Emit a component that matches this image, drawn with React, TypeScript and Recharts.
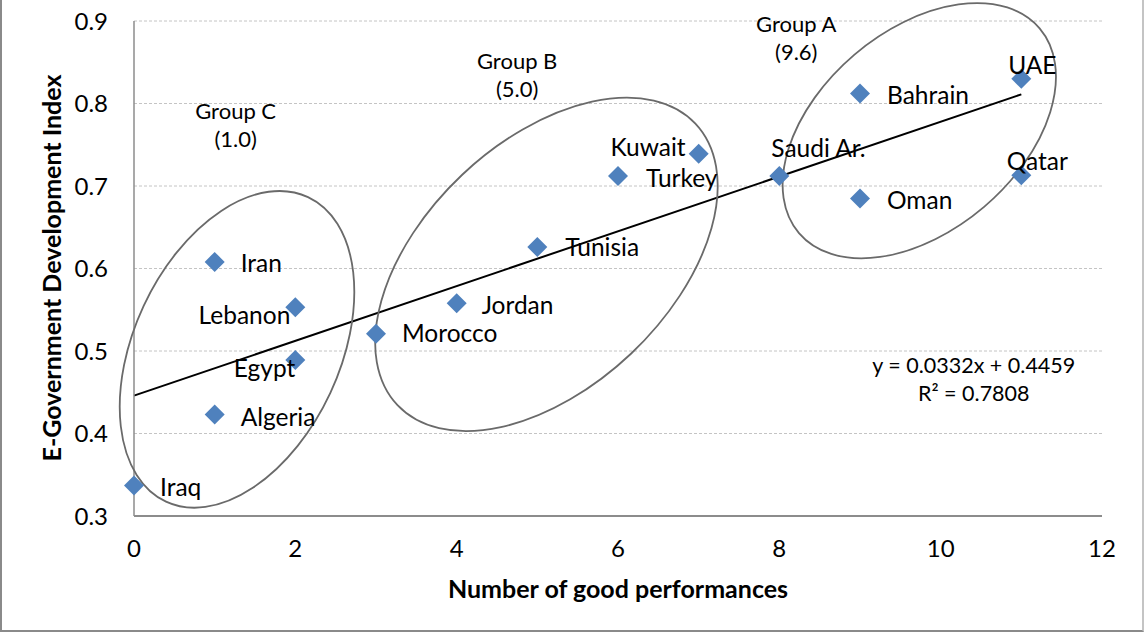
import React from 'react';
import { ScatterChart, Scatter, XAxis, YAxis, CartesianGrid, ReferenceLine, ReferenceDot, Label } from 'recharts';

const countries = ['Iraq', 'Iran', 'Algeria', 'Lebanon', 'Egypt', 'Morocco', 'Jordan', 'Tunisia', 'Turkey', 'Kuwait', 'Saudi Ar.', 'Bahrain', 'Oman', 'UAE', 'Qatar'];
const goodPerformances = [0, 1, 1, 2, 2, 3, 4, 5, 6, 7, 8, 9, 9, 11, 11];
const egdi = [0.337, 0.608, 0.423, 0.553, 0.489, 0.521, 0.558, 0.626, 0.712, 0.739, 0.712, 0.812, 0.685, 0.830, 0.713];

const trendX = [0, 11];
const trendY = [0.4459, 0.8111];

const xTicks = [0, 2, 4, 6, 8, 10, 12];
const yTicks = [0.3, 0.4, 0.5, 0.6, 0.7, 0.8, 0.9];

const groupNames = ['Group C', 'Group B', 'Group A'];
const groupScores = ['(1.0)', '(5.0)', '(9.6)'];

// where each group ring / caption sits (data coords), ring size in px
const RINGS = [
  { x: 1.277, y: 0.502, rx: 103, ry: 168, angle: 25 },
  { x: 5.113, y: 0.605, rx: 123, ry: 205, angle: 46.6 },
  { x: 9.735, y: 0.767, rx: 100, ry: 158, angle: 49.6 },
];
const CAPTIONS = [
  { x: 1.26, y: 0.79 },
  { x: 4.75, y: 0.851 },
  { x: 8.21, y: 0.896 },
];

// label placement next to each diamond (px)
const LABEL_POS: Record<string, { dx: number; dy: number; anchor: 'start' | 'end' | 'middle' }> = {
  'Iraq': { dx: 26, dy: 2, anchor: 'start' },
  'Iran': { dx: 26, dy: 2, anchor: 'start' },
  'Algeria': { dx: 26, dy: 3, anchor: 'start' },
  'Lebanon': { dx: -5, dy: 8, anchor: 'end' },
  'Egypt': { dx: 0, dy: 8, anchor: 'end' },
  'Morocco': { dx: 26, dy: 0, anchor: 'start' },
  'Jordan': { dx: 25, dy: 2, anchor: 'start' },
  'Tunisia': { dx: 28, dy: 0, anchor: 'start' },
  'Turkey': { dx: 28, dy: 2, anchor: 'start' },
  'Kuwait': { dx: -13, dy: -6, anchor: 'end' },
  'Saudi Ar.': { dx: -8, dy: -28, anchor: 'start' },
  'Bahrain': { dx: 27, dy: 2, anchor: 'start' },
  'Oman': { dx: 27, dy: 2, anchor: 'start' },
  'UAE': { dx: 11, dy: -13, anchor: 'middle' },
  'Qatar': { dx: 16, dy: -14, anchor: 'middle' },
};

const FONT = 'Lato, "Open Sans", sans-serif';
const BLUE = '#4F81BD';

const points = countries.map((name, i) => ({ name, x: goodPerformances[i], y: egdi[i] }));

const Diamond = (props: any) => {
  const { cx, cy, payload } = props;
  if (cx == null || cy == null) return null;
  const s = 10;
  const pos = LABEL_POS[payload.name] ?? { dx: 26, dy: 0, anchor: 'start' };
  return (
    <g>
      <polygon points={`${cx},${cy - s} ${cx + s},${cy} ${cx},${cy + s} ${cx - s},${cy}`} fill={BLUE} />
      <text x={cx + pos.dx} y={cy + pos.dy} dy="0.35em" textAnchor={pos.anchor}
        fontFamily={FONT} fontSize={24.5} fill="#000">{payload.name}</text>
    </g>
  );
};

const Ring = (r: { rx: number; ry: number; angle: number }) => (props: any) => {
  const { cx, cy } = props;
  if (cx == null || cy == null) return <g />;
  return (
    <ellipse cx={cx} cy={cy} rx={r.rx} ry={r.ry} transform={`rotate(${r.angle} ${cx} ${cy})`}
      fill="none" stroke="#6a6a6a" strokeWidth={1.8} />
  );
};

const TwoLines = (a: string, b: string, size: number) => (props: any) => {
  const { cx, cy } = props;
  if (cx == null || cy == null) return <g />;
  return (
    <g fontFamily={FONT} fontSize={size} fill="#000" textAnchor="middle">
      <text x={cx} y={cy} dy="0.35em">{a}</text>
      <text x={cx} y={cy + 28} dy="0.35em">{b}</text>
    </g>
  );
};

export default function App() {
  return (
    <div style={{ position: 'absolute', left: 0, top: 0, width: 1144, height: 632, background: '#fff' }}>
      <ScatterChart width={1144} height={632} margin={{ top: 21, right: 42, bottom: 0, left: 0 }}>
        <CartesianGrid vertical={false} stroke="#c4c4c4" strokeDasharray="3 2" />
        <XAxis type="number" dataKey="x" domain={[0, 12]} ticks={xTicks} height={116}
          tickSize={0} tickMargin={24} axisLine={{ stroke: '#8c8c8c', strokeWidth: 2 }}
          tick={{ fill: '#000', fontSize: 24, fontFamily: FONT }}>
          <Label value="Number of good performances" position="insideBottom" offset={34}
            style={{ fontFamily: FONT, fontSize: 25, fontWeight: 700, fill: '#000' }} />
        </XAxis>
        <YAxis type="number" dataKey="y" domain={[0.3, 0.9]} ticks={yTicks} width={134}
          tickSize={0} tickMargin={26} axisLine={{ stroke: '#8c8c8c', strokeWidth: 1.5 }}
          tickFormatter={(v: number) => v.toFixed(1)}
          tick={{ fill: '#000', fontSize: 24, fontFamily: FONT }}>
          <Label content={() => (
            <text x={52} y={268} dy="0.35em" textAnchor="middle" transform="rotate(-90 52 268)"
              fontFamily={FONT} fontSize={25} fontWeight={700} fill="#000">E-Government Development Index</text>
          )} />
        </YAxis>
        {RINGS.map((r, i) => (
          <ReferenceDot key={'ring' + i} x={r.x} y={r.y} r={1} shape={Ring(r)} />
        ))}
        {CAPTIONS.map((c, i) => (
          <ReferenceDot key={'cap' + i} x={c.x} y={c.y} r={1} shape={TwoLines(groupNames[i], groupScores[i], 22)} />
        ))}
        <ReferenceDot x={10.41} y={0.483} r={1} shape={TwoLines('y = 0.0332x + 0.4459', 'R² = 0.7808', 21.5)} />
        <ReferenceLine segment={[{ x: trendX[0], y: trendY[0] }, { x: trendX[1], y: trendY[1] }]}
          stroke="#000" strokeWidth={2} />
        <Scatter data={points} shape={Diamond} isAnimationActive={false} />
      </ScatterChart>
      <div style={{
        position: 'absolute', left: 0, top: -4, width: 1144, height: 636, boxSizing: 'border-box',
        borderLeft: '2px solid #8a8a8a', borderBottom: '2px solid #8a8a8a', borderRight: '2px solid #c4c4c4',
        pointerEvents: 'none',
      }} />
    </div>
  );
}
